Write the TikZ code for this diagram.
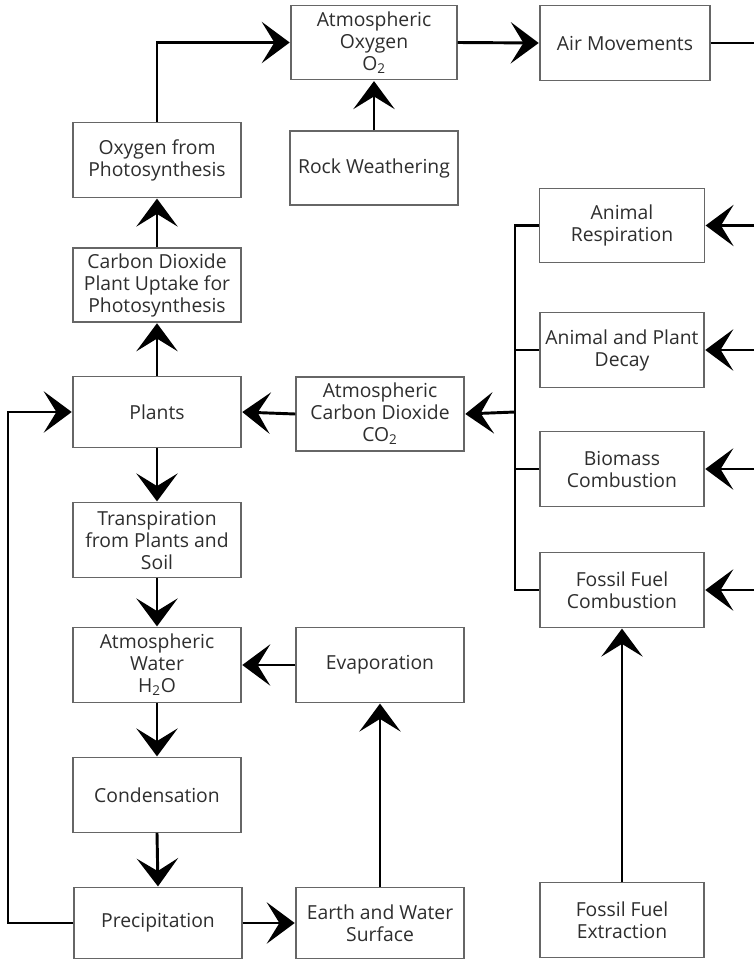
\documentclass[tikz,border=0pt]{standalone}
\usepackage{fontspec}
\setmainfont{Open Sans}
\usetikzlibrary{arrows.meta}
\definecolor{boxline}{HTML}{666666}
\definecolor{ink}{HTML}{2e2e2e}
\tikzset{
  box/.style={draw=boxline, line width=0.9pt, fill=white, align=center,
    text=ink, font=\fontsize{14.5}{16.5}\selectfont, inner sep=1pt},
  link/.style={line width=2.2pt, black},
  flow/.style={link, -{Stealth[length=21pt,width=31pt,inset=9.5pt]}, shorten >=0.5pt}
}
\begin{document}
\begin{tikzpicture}[x=0.75pt,y=-0.75pt]
\useasboundingbox[fill=white] (0,0) rectangle (754,960);

% oxygen branch
\node[box, minimum width=124.5pt, minimum height=56pt] (oxy) at (374,42.5) {Atmospheric\\Oxygen\\O\textsubscript{2}};
\node[box, minimum width=127.5pt, minimum height=56pt] (air) at (625,43) {Air Movements};
\node[box, minimum width=126pt, minimum height=56pt] (photo) at (157,160) {Oxygen from\\Photosynthesis};
\node[box, minimum width=126pt, minimum height=55.5pt] (rock) at (374,168) {Rock Weathering};
\node[box, minimum width=126pt, minimum height=55.5pt] (uptake) at (157,285) {Carbon Dioxide\\Plant Uptake for\\Photosynthesis};

% carbon branch
\node[box, minimum width=126pt, minimum height=53pt] (plants) at (157,412) {Plants};
\node[box, minimum width=126pt, minimum height=55.5pt] (co2) at (380,414) {Atmospheric\\Carbon Dioxide\\CO\textsubscript{2}};
\node[box, minimum width=123.5pt, minimum height=56pt] (resp) at (622,225.5) {Animal\\Respiration};
\node[box, minimum width=123pt, minimum height=56pt] (decay) at (622,350) {Animal and Plant\\Decay};
\node[box, minimum width=123pt, minimum height=56pt] (biomass) at (622,469) {Biomass\\Combustion};
\node[box, minimum width=123pt, minimum height=56pt] (ffc) at (622,590) {Fossil Fuel\\Combustion};

% water branch
\node[box, minimum width=126pt, minimum height=56pt] (transp) at (157,540) {Transpiration\\from Plants and\\Soil};
\node[box, minimum width=126pt, minimum height=56pt] (water) at (157,665) {Atmospheric\\Water\\H\textsubscript{2}O};
\node[box, minimum width=126pt, minimum height=56pt] (evap) at (380,665) {Evaporation};
\node[box, minimum width=126pt, minimum height=56pt] (cond) at (157,795) {Condensation};
\node[box, minimum width=126pt, minimum height=53pt] (precip) at (158,923) {Precipitation};
\node[box, minimum width=126pt, minimum height=53pt] (earth) at (380,923) {Earth and Water\\Surface};
\node[box, minimum width=123pt, minimum height=56pt] (ffe) at (622,920) {Fossil Fuel\\Extraction};

% free ends and routing points
\coordinate (airout) at (754,43);
\coordinate (bus) at (515,412);
\coordinate (loopx) at (8,0);
\coordinate (edge) at (754,0);

% oxygen connectors
\draw[flow] (photo.north) |- (oxy.west);
\draw[flow] (rock.north) -- (oxy.south);
\draw[flow] (oxy.east) -- (air.west);
\draw[link] (air.east) -- (airout);
\draw[flow] (uptake.north) -- (photo.south);
\draw[flow] (plants.north) -- (uptake.south);

% carbon connectors
\draw[flow] (co2.west) -- (plants.east);
\draw[link] (resp.west) -| (bus) |- (ffc.west);
\draw[link] (decay.west) -- (decay.west -| bus);
\draw[link] (biomass.west) -- (biomass.west -| bus);
\draw[flow] (bus) -- (co2.east);
\foreach \n in {resp,decay,biomass,ffc}
  \draw[flow] (\n.east -| edge) -- (\n.east);
\draw[flow] (ffe.north) -- (ffc.south);

% water connectors
\draw[flow] (plants.south) -- (transp.north);
\draw[flow] (transp.south) -- (water.north);
\draw[flow] (evap.west) -- (water.east);
\draw[flow] (water.south) -- (cond.north);
\draw[flow] (cond.south) -- (precip.north);
\draw[flow] (precip.east) -- (earth.west);
\draw[flow] (earth.north) -- (evap.south);
\draw[flow] (precip.west) -- (precip.west -| loopx) |- (plants.west);
\end{tikzpicture}
\end{document}
